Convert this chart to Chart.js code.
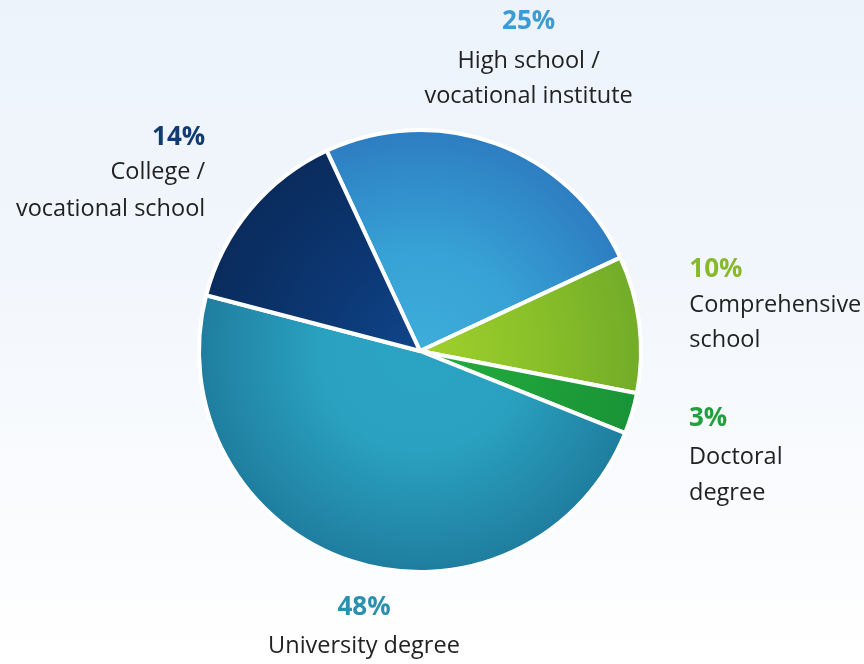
<!DOCTYPE html>
<html>
<head>
<meta charset="utf-8">
<title>Education level</title>
<script src="https://cdn.jsdelivr.net/npm/chart.js@4"></script>
<style>
  html, body { margin: 0; padding: 0; }
  body {
    width: 864px; height: 664px; overflow: hidden;
    background: linear-gradient(to bottom, #ecf3fb 0%, #f3f7fc 45%, #fbfcfe 80%, #ffffff 100%);
  }
  #wrap { position: relative; width: 864px; height: 664px; }
</style>
</head>
<body>
<div id="wrap"><canvas id="chart" width="864" height="664"></canvas></div>
<script>
// Education level shares, in clockwise order
const categories = [
  ['High school /', 'vocational institute'],
  ['Comprehensive', 'school'],
  ['Doctoral', 'degree'],
  ['University degree'],
  ['College /', 'vocational school']
];
const shares = [25, 10, 3, 48, 14];

// Slice shading: [centre, middle, rim]
const sliceShades = [
  ['#3eaddb', '#37a2d5', '#2d7dc1'],
  ['#a0d02c', '#8dc329', '#72ac29'],
  ['#24ad40', '#1fa23b', '#199336'],
  ['#2ba3c2', '#2aa1c0', '#1f7d9f'],
  ['#10458a', '#0c3874', '#0a2b5c']
];
const percentColors = ['#3d9bd3', '#88b92c', '#22a03c', '#2a90ae', '#123b70'];

// Label placement relative to the rim point at each slice's mid-angle
const labelLayout = [
  { dx: 33, dy: -122, align: 'center', gaps: [40, 35] },
  { dx: 50, dy: -54, align: 'left', gaps: [35, 35] },
  { dx: 57, dy: 5, align: 'left', gaps: [39, 36] },
  { dx: 13, dy: 47, align: 'center', gaps: [38] },
  { dx: -45, dy: -72, align: 'right', gaps: [35, 37] }
];

const FONT = '"Open Sans", "Noto Sans", sans-serif';

// Radial shading from the pie centre to its rim
function sliceFill(ctx) {
  const chart = ctx.chart;
  const area = chart.chartArea;
  const s = sliceShades[ctx.dataIndex];
  if (!area) return s[1];
  const cx = (area.left + area.right) / 2;
  const cy = (area.top + area.bottom) / 2;
  const r = Math.min(area.right - area.left, area.bottom - area.top) / 2;
  const g = chart.ctx.createRadialGradient(cx, cy, 0, cx, cy, r);
  g.addColorStop(0, s[0]);
  g.addColorStop(0.45, s[1]);
  g.addColorStop(1, s[2]);
  return g;
}

const sliceLabels = {
  id: 'sliceLabels',
  afterDatasetsDraw(chart) {
    const ctx = chart.ctx;
    const meta = chart.getDatasetMeta(0);
    meta.data.forEach((arc, i) => {
      const mid = (arc.startAngle + arc.endAngle) / 2;
      const rx = arc.x + Math.cos(mid) * arc.outerRadius;
      const ry = arc.y + Math.sin(mid) * arc.outerRadius;
      const lay = labelLayout[i];
      const x = rx + lay.dx;
      let y = ry + lay.dy;
      ctx.save();
      ctx.textAlign = lay.align;
      ctx.textBaseline = 'middle';
      ctx.font = 'bold 26px ' + FONT;
      ctx.fillStyle = percentColors[i];
      ctx.fillText(shares[i] + '%', x, y);
      ctx.font = '23.5px ' + FONT;
      ctx.fillStyle = '#222222';
      categories[i].forEach((line, k) => {
        y += lay.gaps[k];
        ctx.fillText(line, x, y);
      });
      ctx.restore();
    });
  }
};

new Chart(document.getElementById('chart'), {
  type: 'pie',
  data: {
    labels: categories.map(c => c.join(' ')),
    datasets: [{
      data: shares,
      backgroundColor: sliceFill,
      borderColor: '#ffffff',
      borderWidth: 4,
      hoverOffset: 0
    }]
  },
  options: {
    responsive: false,
    animation: false,
    rotation: -25,
    layout: { padding: { top: 128, bottom: 90, left: 100, right: 124 } },
    plugins: {
      legend: { display: false },
      tooltip: { enabled: false }
    }
  },
  plugins: [sliceLabels]
});
</script>
</body>
</html>
